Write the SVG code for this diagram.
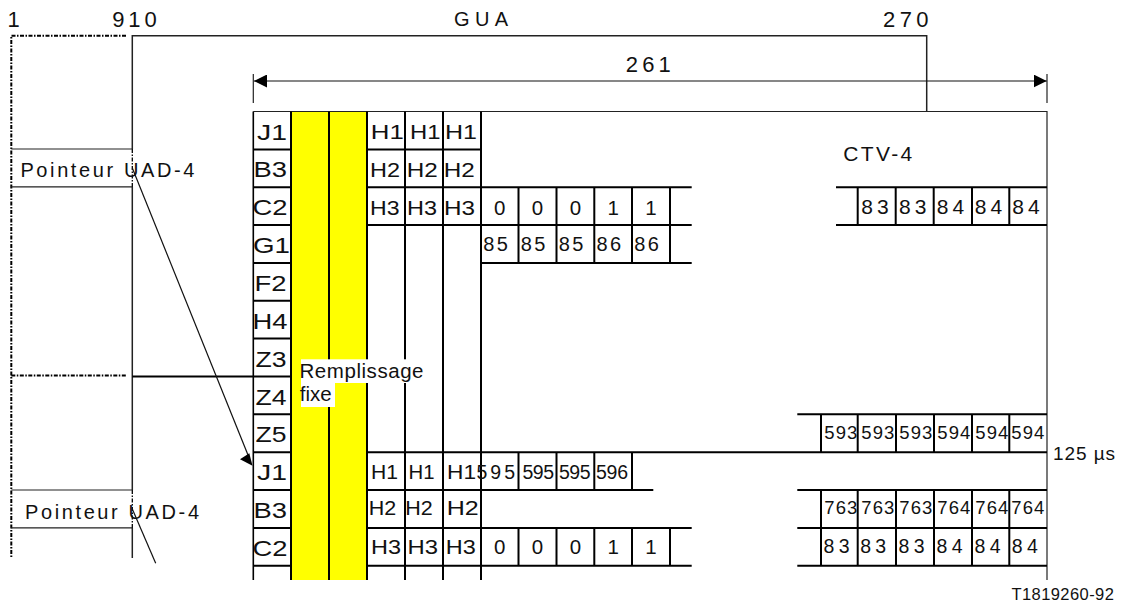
<svg xmlns="http://www.w3.org/2000/svg" width="1133" height="607" viewBox="0 0 1133 607">
<style>
text{font-family:"Liberation Sans",Arial,sans-serif;fill:#111}
.g{stroke:#000;stroke-width:2;fill:none}
.t{stroke:#222;stroke-width:1.2;fill:none}
.dd{stroke:#000;stroke-width:2;fill:none;stroke-dasharray:4 1.5 1.5 1.5}
.big{font-size:22px}
.lab{font-size:22px}
.h{font-size:19.5px}
.n{font-size:20.5px}
.s{font-size:18.5px}
.c{text-anchor:middle}
</style>
<defs>
<marker id="arr" viewBox="0 0 13 13" refX="13" refY="6.5" markerWidth="13" markerHeight="13" markerUnits="userSpaceOnUse" orient="auto-start-reverse">
<path d="M0,0 L13,6.5 L0,13 Z" fill="#000"/>
</marker>
</defs>
<rect width="1133" height="607" fill="#fff"/>

<g id="top-labels">
<text class="big" x="7.6" y="27">1</text>
<text class="big" x="112.2" y="27" textLength="44.5">910</text>
<text x="454" y="26" style="font-size:20px" textLength="54">GUA</text>
<text class="big" x="883" y="26.7" textLength="45.5">270</text>
<text class="big" x="625.8" y="72.3" textLength="45">261</text>
</g>

<g id="frame">
<path class="dd" d="M126,35.7 H11.3 V558"/>
<path class="dd" d="M11.3,375.5 H126"/>
<path class="t" d="M132.3,149 V35.7 H926.7 V111.5" style="stroke-width:1.5"/>
<path class="t" d="M132.3,187 V490" style="stroke-width:1.5"/>
<path class="t" d="M132.3,528 V558" style="stroke-width:1.5"/>
<path class="dd" d="M132.3,149 V187" style="stroke-width:1.3"/>
<path class="dd" d="M132.3,490 V528" style="stroke-width:1.3"/>
<line class="g" x1="132.3" y1="376.4" x2="253.3" y2="376.4"/>
</g>

<g id="pointer-1">
<path class="t" d="M11.3,149 H132.3 M11.3,186.8 H132.3"/>
<text x="20.4" y="176.7" style="font-size:20px" textLength="174">Pointeur UAD-4</text>
</g>
<g id="pointer-2">
<path class="t" d="M11.3,490 H132.3 M11.3,527.8 H132.3"/>
<text x="25" y="519" style="font-size:20px" textLength="174">Pointeur UAD-4</text>
</g>

<g id="table">
<rect x="291" y="111.5" width="76" height="468.5" fill="#ffff00"/>
<path class="t" d="M253.3,111.5 H1047 V580"/>
<line x1="253.3" y1="111.5" x2="253.3" y2="580" stroke="#000" stroke-width="1.6"/>
<path class="g" d="M291,111.5 V580 M329,111.5 V580 M367,111.5 V580 M405,111.5 V580 M443,111.5 V580 M481,111.5 V580"/>
<path class="g" d="M253.3,149.4 H291 M253.3,187.2 H291 M253.3,225.1 H291 M253.3,262.9 H291 M253.3,300.8 H291 M253.3,338.6 H291 M253.3,376.5 H291 M253.3,414.3 H291 M253.3,452.2 H291 M253.3,490 H291 M253.3,527.9 H291 M253.3,565.7 H291"/>
<path class="g" d="M367,149.4 H481 M367,187.2 H691.7 M367,225.1 H691.7 M481,262.9 H691.7"/>
<path class="g" d="M518.5,187.2 V262.9 M556.5,187.2 V262.9 M594.3,187.2 V262.9 M632,187.2 V262.9 M670,187.2 V262.9"/>
<path class="g" d="M836,187.2 H1047 M836,225.1 H1047"/>
<path class="g" d="M857.7,187.2 V225.1 M895.7,187.2 V225.1 M933.7,187.2 V225.1 M972,187.2 V225.1 M1009.3,187.2 V225.1"/>
<path class="g" d="M797.3,414.3 H1047 M367,452.2 H1047 M797.3,490 H1047 M797.3,527.9 H1047 M797.3,565.7 H1047"/>
<path class="g" d="M821,414.3 V452.2 M857.7,414.3 V452.2 M896,414.3 V452.2 M934,414.3 V452.2 M972,414.3 V452.2 M1009.3,414.3 V452.2"/>
<path class="g" d="M821,490 V565.7 M857.7,490 V565.7 M896,490 V565.7 M934,490 V565.7 M972,490 V565.7 M1009.3,490 V565.7"/>
<path class="g" d="M367,490 H653.3 M367,527.9 H691.7 M367,565.7 H691.7"/>
<path class="g" d="M518.5,452.2 V490 M556.5,452.2 V490 M594.3,452.2 V490 M632,452.2 V490"/>
<path class="g" d="M518.5,527.9 V565.7 M556.5,527.9 V565.7 M594.3,527.9 V565.7 M632,527.9 V565.7 M670,527.9 V565.7"/>
</g>

<g id="row-labels" class="lab">
<text x="257" y="139.5" textLength="30" lengthAdjust="spacingAndGlyphs">J1</text>
<text x="253.5" y="177.4" textLength="33.5" lengthAdjust="spacingAndGlyphs">B3</text>
<text x="252.5" y="215.2" textLength="35" lengthAdjust="spacingAndGlyphs">C2</text>
<text x="253" y="253.1" textLength="37" lengthAdjust="spacingAndGlyphs">G1</text>
<text x="254.5" y="290.9" textLength="32" lengthAdjust="spacingAndGlyphs">F2</text>
<text x="252.5" y="328.8" textLength="35" lengthAdjust="spacingAndGlyphs">H4</text>
<text x="255.5" y="366.6" textLength="31" lengthAdjust="spacingAndGlyphs">Z3</text>
<text x="255.5" y="404.5" textLength="31" lengthAdjust="spacingAndGlyphs">Z4</text>
<text x="255.5" y="442.3" textLength="31" lengthAdjust="spacingAndGlyphs">Z5</text>
<text x="257" y="480.2" textLength="30" lengthAdjust="spacingAndGlyphs">J1</text>
<text x="253.5" y="518" textLength="33.5" lengthAdjust="spacingAndGlyphs">B3</text>
<text x="252.5" y="555.9" textLength="35" lengthAdjust="spacingAndGlyphs">C2</text>
</g>

<g id="h-bytes" class="h">
<text x="370.8" y="139.1" textLength="33" lengthAdjust="spacingAndGlyphs">H1</text>
<text x="410" y="139.1" textLength="30.5" lengthAdjust="spacingAndGlyphs">H1</text>
<text x="445" y="139.1" textLength="32" lengthAdjust="spacingAndGlyphs">H1</text>
<text x="370" y="177" textLength="30" lengthAdjust="spacingAndGlyphs">H2</text>
<text x="406.8" y="177" textLength="31" lengthAdjust="spacingAndGlyphs">H2</text>
<text x="443.8" y="177" textLength="31" lengthAdjust="spacingAndGlyphs">H2</text>
<text x="370" y="214.8" textLength="29.5" lengthAdjust="spacingAndGlyphs">H3</text>
<text x="407" y="214.8" textLength="30" lengthAdjust="spacingAndGlyphs">H3</text>
<text x="444" y="214.8" textLength="31" lengthAdjust="spacingAndGlyphs">H3</text>
<text x="371" y="479" textLength="27" lengthAdjust="spacingAndGlyphs">H1</text>
<text x="408.5" y="479" textLength="26" lengthAdjust="spacingAndGlyphs">H1</text>
<text x="447" y="479" textLength="29" lengthAdjust="spacingAndGlyphs">H1</text>
<text x="368.8" y="515" textLength="27.5" lengthAdjust="spacingAndGlyphs">H2</text>
<text x="405.3" y="515" textLength="27.5" lengthAdjust="spacingAndGlyphs">H2</text>
<text x="446.8" y="515" textLength="32" lengthAdjust="spacingAndGlyphs">H2</text>
<text x="371" y="554" textLength="30" lengthAdjust="spacingAndGlyphs">H3</text>
<text x="407.5" y="554" textLength="30.5" lengthAdjust="spacingAndGlyphs">H3</text>
<text x="445.8" y="554" textLength="30" lengthAdjust="spacingAndGlyphs">H3</text>
</g>

<g id="ctv-4">
<text x="843.3" y="161" style="font-size:21px" textLength="69">CTV-4</text>
<g class="n c">
<text x="499.7" y="214.7">0</text><text x="537.5" y="214.7">0</text><text x="575.4" y="214.7">0</text><text x="613.2" y="214.7">1</text><text x="651" y="214.7">1</text>
<text x="499.7" y="554">0</text><text x="537.5" y="554">0</text><text x="575.4" y="554">0</text><text x="613.2" y="554">1</text><text x="651" y="554">1</text>
</g>
<g style="font-size:20px">
<text x="483.3" y="251" textLength="24.5">85</text><text x="520.8" y="251" textLength="24.5">85</text><text x="558.8" y="251" textLength="24.5">85</text><text x="596.6" y="251" textLength="24.5">86</text><text x="634.3" y="251" textLength="24.5">86</text>
</g>
<g style="font-size:21px">
<text x="861.3" y="214.3" textLength="27.5">83</text><text x="899" y="214.3" textLength="27.5">83</text><text x="936.7" y="214.3" textLength="27.5">84</text><text x="974.7" y="214.3" textLength="27.5">84</text><text x="1012.3" y="214.3" textLength="27.5">84</text>
</g>
<g class="s">
<text x="824.3" y="439.3" textLength="33">593</text><text x="861.3" y="439.3" textLength="33">593</text><text x="899.3" y="439.3" textLength="33">593</text><text x="937.3" y="439.3" textLength="33">594</text><text x="975.3" y="439.3" textLength="33">594</text><text x="1011.3" y="439.3" textLength="33">594</text>
<text x="824.3" y="514" textLength="33">763</text><text x="861.3" y="514" textLength="33">763</text><text x="899.3" y="514" textLength="33">763</text><text x="937.3" y="514" textLength="33">764</text><text x="975.3" y="514" textLength="33">764</text><text x="1011.3" y="514" textLength="33">764</text>
</g>
<g style="font-size:19.5px">
<text x="823.5" y="553.3" textLength="26">83</text><text x="860.2" y="553.3" textLength="26">83</text><text x="898.5" y="553.3" textLength="26">83</text><text x="936.5" y="553.3" textLength="26">84</text><text x="974.5" y="553.3" textLength="26">84</text><text x="1011.8" y="553.3" textLength="26">84</text>
<text x="476.5" y="479" textLength="38.5">595</text><text x="522.5" y="479" textLength="31.5">595</text><text x="559" y="479" textLength="31.5">595</text><text x="596" y="479" textLength="32">596</text>
</g>
</g>

<g id="fill-label">
<rect x="301" y="359.3" width="122" height="23.7" fill="#fff"/>
<rect x="301" y="383" width="34" height="24" fill="#fff"/>
<text x="299.5" y="377.7" style="font-size:20.5px" textLength="124">Remplissage</text>
<text x="299.8" y="401" style="font-size:20.5px">fixe</text>
</g>

<g id="side-labels">
<text x="1053" y="460" style="font-size:19px" textLength="62">125 µs</text>
<text x="1011.4" y="600" style="font-size:16.5px" textLength="102.5">T1819260-92</text>
</g>

<g id="connectors">
<line class="t" x1="253.3" y1="74" x2="253.3" y2="103"/>
<line class="t" x1="1047" y1="74" x2="1047" y2="103"/>
<line x1="254" y1="81" x2="1046.7" y2="81" stroke="#111" stroke-width="1.2" marker-start="url(#arr)" marker-end="url(#arr)"/>
<line x1="132.3" y1="168" x2="248" y2="455" stroke="#111" stroke-width="1.2"/>
<polygon points="252.5,465.7 240,459.3 249.3,453.3" fill="#000"/>
<line x1="132.3" y1="509" x2="155.7" y2="563.3" stroke="#111" stroke-width="1.2"/>
</g>
</svg>
